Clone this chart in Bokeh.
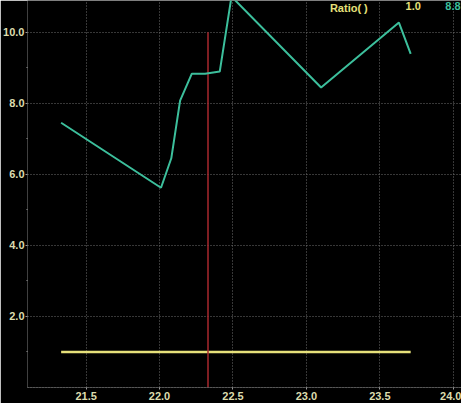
from bokeh.plotting import figure
from bokeh.embed import file_html
from bokeh.resources import INLINE
from bokeh.models import Range1d, FixedTicker, PrintfTickFormatter, Label

# data
ratio_x = [21.33, 22.01, 22.08, 22.14, 22.22, 22.31, 22.41, 22.49, 23.10, 23.63, 23.71]
ratio_y = [7.45, 5.62, 6.45, 8.07, 8.83, 8.83, 8.89, 11.0, 8.44, 10.27, 9.39]
ref_x = [21.33, 23.71]
ref_y = [1.0, 1.0]
cursor_x = [22.33]
cursor_y0 = [0.0]
cursor_y1 = [10.0]
y_ticks = [2, 4, 6, 8, 10]
y_minor = [1, 3, 5, 7, 9]
x_ticks = [21.5, 22.0, 22.5, 23.0, 23.5, 24.0]

BG = "black"
LBL = "#dcdcae"
GRID = "#6e6e6e"
TEAL = "#3cbf9c"
YEL = "#e6e07a"
RED = "#a8282e"

p = figure(width=461, height=403, output_backend="svg", toolbar_location=None,
           x_range=Range1d(21.101, 24.056), y_range=Range1d(0, 10.89),
           min_border_left=27, min_border_right=0, min_border_top=0, min_border_bottom=16)
p.background_fill_color = BG
p.border_fill_color = BG
p.outline_line_color = None

p.segment(x0=ref_x[0], y0=ref_y[0], x1=ref_x[1], y1=ref_y[1], line_color=YEL, line_width=2.5)
p.segment(x0=cursor_x, y0=cursor_y0, x1=cursor_x, y1=cursor_y1, line_color=RED, line_width=1.5)
p.line(ratio_x, ratio_y, line_color=TEAL, line_width=2)

p.yaxis.ticker = FixedTicker(ticks=y_ticks, minor_ticks=y_minor)
p.xaxis.ticker = FixedTicker(ticks=x_ticks)
p.yaxis.formatter = PrintfTickFormatter(format="%.1f")
p.xaxis.formatter = PrintfTickFormatter(format="%.1f")

for ax in (p.xaxis, p.yaxis):
    ax.major_label_text_color = LBL
    ax.major_label_text_font = "Liberation Sans"
    ax.major_label_text_font_style = "bold"
    ax.major_label_text_font_size = "11px"
    ax.major_tick_line_color = "#9a9a9a"
    ax.major_tick_in = 0
    ax.minor_tick_line_color = "#9a9a9a"
    ax.minor_tick_in = 0
    ax.minor_tick_out = 1

p.yaxis.axis_line_color = None
p.yaxis.major_tick_out = 2
p.yaxis.major_label_standoff = 1
p.xaxis.axis_line_color = GRID
p.xaxis.axis_line_dash = "1 2"
p.xaxis.major_tick_out = 2
p.xaxis.major_label_standoff = 2
p.xaxis.minor_tick_line_color = None

p.grid.grid_line_color = GRID
p.grid.grid_line_dash = "1 2"
p.grid.grid_line_width = 1

for tx, txt, col, al in [(23.16, "Ratio( )", YEL, "left"),
                         (23.675, "1.0", YEL, "left"),
                         (24.05, "8.8", TEAL, "right")]:
    p.add_layout(Label(x=tx, y=10.84, text=txt, text_color=col, text_font_size="11px",
                       text_font_style="bold", text_font="Liberation Sans",
                       text_baseline="top", text_align=al))

open("out.html", "w").write(file_html(p, INLINE))
